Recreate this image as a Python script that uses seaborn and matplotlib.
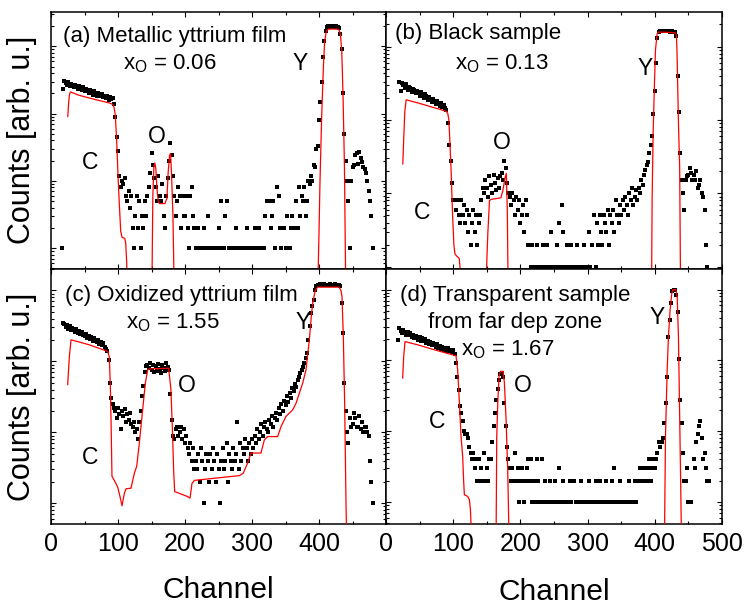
import numpy as np
import pandas as pd
import matplotlib
matplotlib.use("Agg")
import matplotlib.pyplot as plt
import seaborn as sns
from matplotlib.ticker import MultipleLocator, LogLocator, NullFormatter

sns.set_style("ticks")
plt.rcParams['font.family'] = ['Liberation Sans', 'DejaVu Sans']
plt.rcParams['mathtext.fontset'] = 'custom'
plt.rcParams['mathtext.rm'] = 'Liberation Sans'
plt.rcParams['mathtext.it'] = 'Liberation Sans:italic'
for key in ('text.color', 'axes.labelcolor', 'xtick.color', 'ytick.color', 'axes.edgecolor'):
    plt.rcParams[key] = 'black'

# ---------------- measured spectra (counts per channel, channels 16,18,...,480) -------------
CH_START, CH_STEP = 16, 2

counts_a = [
    1, 230, 310, 285, 270, 300, 255, 280, 265, 245,
    270, 250, 235, 260, 240, 225, 250, 215, 235, 225,
    205, 225, 210, 190, 215, 200, 185, 205, 195, 180,
    195, 175, 185, 168, 180, 160, 175, 165, 172, 140,
    90, 45, 28, 12, 8, 10, 9, 11, 6, 5,
    7, 4, 6, 2, 1, 3, 6, 2, 5, 1,
    3, 2, 5, 3, 6, 8, 13, 26, 17, 11,
    8, 5, 12, 6, 5, 9, 3, 2, 6, 11,
    20, 36, 24, 12, 6, 3, 5, 8, 6, 2,
    6, 3, 3, 6, 2, 1, 6, 8, 3, 2,
    1, 0, 2, 1, 0, 1, 2, 0, 1, 3,
    0, 1, 0, 1, 0, 1, 0, 2, 1, 5,
    0, 1, 3, 5, 0, 1, 0, 1, 0, 1,
    2, 0, 1, 0, 1, 0, 1, 0, 2, 1,
    0, 1, 0, 1, 2, 0, 1, 2, 0, 1,
    0, 1, 3, 5, 0, 5, 2, 3, 5, 1,
    0, 8, 6, 2, 1, 0, 2, 1, 3, 0,
    1, 2, 3, 0, 2, 5, 2, 8, 3, 6,
    5, 8, 3, 5, 10, 9, 12, 10, 17, 16,
    30, 33, 80, 150, 300, 700, 1200, 1700, 1950, 2000,
    2000, 1950, 2000, 1950, 1950, 2000, 1950, 1900, 1500, 900,
    200, 50, 20, 10, 5, 1, 10, 16, 17, 24,
    26, 18, 27, 22, 19, 16, 15, 13, 10, 7,
    5, 3, 1,
]

counts_b = [
    0, 0, 330, 250, 315, 295, 270, 305, 260, 285,
    275, 240, 265, 255, 230, 250, 235, 215, 240, 220,
    200, 225, 210, 185, 205, 195, 175, 190, 180, 165,
    180, 170, 155, 168, 150, 160, 145, 135, 90, 45,
    28, 14, 8, 8, 6, 8, 5, 4, 8, 5,
    7, 4, 6, 3, 5, 2, 4, 6, 3, 5,
    2, 4, 5, 8, 12, 10, 15, 12, 9, 17,
    13, 10, 18, 14, 11, 16, 12, 17, 19, 15,
    28, 22, 14, 10, 9, 7, 10, 8, 5, 9,
    6, 8, 4, 5, 7, 3, 8, 5, 2, 0,
    1, 2, 0, 1, 2, 1, 0, 1, 1, 2,
    1, 0, 2, 1, 1, 3, 1, 0, 1, 2,
    1, 4, 1, 7, 3, 1, 0, 2, 1, 1,
    2, 1, 0, 1, 2, 1, 1, 0, 1, 2,
    1, 0, 1, 3, 1, 2, 0, 5, 1, 4,
    2, 5, 3, 2, 5, 4, 3, 6, 2, 5,
    4, 6, 3, 8, 5, 4, 7, 5, 8, 6,
    9, 7, 5, 10, 8, 12, 7, 9, 11, 8,
    12, 10, 15, 13, 18, 21, 24, 27, 35, 45,
    60, 120, 250, 600, 1300, 1600, 1650, 1620, 1650, 1640,
    1620, 1650, 1630, 1600, 1640, 1610, 1600, 1580, 1400, 400,
    130, 35, 15, 10, 6, 15, 17, 18, 22, 19,
    15, 18, 15, 20, 12, 13, 15, 10, 9, 6,
    2, 1, 0,
]

counts_c = [
    0, 350, 335, 300, 320, 285, 310, 275, 295, 280,
    260, 285, 250, 270, 240, 255, 235, 225, 245, 215,
    230, 205, 220, 195, 210, 200, 185, 200, 175, 190,
    170, 180, 160, 150, 140, 105, 50, 30, 25, 22,
    20, 16, 22, 18, 11, 20, 17, 21, 14, 18,
    15, 19, 13, 12, 14, 10, 11, 8, 14, 20,
    32, 45, 70, 85, 90, 80, 95, 75, 88, 70,
    85, 72, 92, 78, 68, 90, 80, 73, 95, 82,
    75, 35, 15, 9, 8, 11, 12, 9, 10, 12,
    8, 11, 7, 9, 6, 5, 7, 4, 6, 3,
    4, 3, 5, 2, 6, 4, 1, 3, 5, 4,
    2, 5, 3, 6, 4, 2, 5, 3, 1, 4,
    6, 3, 4, 7, 2, 5, 4, 3, 6, 4,
    5, 14, 3, 7, 4, 6, 5, 8, 6, 4,
    7, 5, 8, 6, 9, 7, 11, 8, 10, 13,
    9, 12, 14, 11, 10, 15, 13, 17, 12, 16,
    19, 15, 22, 18, 25, 20, 28, 24, 32, 27,
    36, 30, 42, 38, 48, 44, 55, 60, 68, 75,
    84, 95, 110, 130, 200, 310, 480, 600, 720, 1000,
    1150, 1200, 1180, 1220, 1200, 1190, 1210, 1200, 1180, 1200,
    1210, 1190, 1200, 1180, 1210, 1200, 1190, 1180, 1150, 660,
    250, 50, 20, 10, 7, 16, 12, 13, 19, 16,
    12, 12, 17, 11, 14, 10, 12, 12, 10, 9,
    4, 2, 1,
]

counts_d = [
    0, 195, 285, 260, 240, 270, 250, 230, 255, 225,
    240, 215, 230, 205, 222, 210, 195, 215, 190, 205,
    185, 198, 178, 190, 170, 182, 165, 175, 168, 155,
    168, 150, 160, 145, 156, 140, 152, 136, 148, 135,
    142, 130, 138, 125, 91, 59, 38, 23, 18, 14,
    10, 9, 9, 8, 6, 5, 4, 5, 3, 4,
    2, 4, 2, 3, 2, 5, 2, 3, 2, 4,
    4, 7, 12, 18, 28, 40, 52, 64, 66, 58,
    25, 12, 6, 4, 3, 2, 3, 2, 5, 2,
    3, 1, 2, 3, 2, 1, 2, 3, 4, 2,
    4, 1, 2, 1, 4, 2, 1, 0, 4, 1,
    2, 1, 0, 1, 2, 1, 1, 0, 2, 1,
    1, 3, 1, 0, 2, 1, 1, 0, 1, 2,
    1, 0, 2, 1, 0, 1, 1, 2, 0, 1,
    1, 0, 1, 2, 1, 0, 1, 1, 2, 1,
    0, 2, 1, 1, 0, 1, 2, 1, 0, 1,
    2, 1, 3, 1, 0, 1, 2, 1, 1, 0,
    1, 0, 1, 2, 0, 1, 0, 2, 1, 0,
    2, 3, 2, 3, 2, 3, 2, 3, 4, 2,
    3, 4, 3, 4, 5, 7, 6, 7, 8, 13,
    25, 59, 216, 370, 640, 950, 1000, 1000, 850, 480,
    106, 28, 13, 5, 2, 2, 3, 1, 0, 1,
    0, 4, 3, 7, 9, 12, 14, 8, 4, 5,
    3, 2, 2,
]

# ---------------- simulated spectra (red curves); None separates segments ----------------
sim_ch_a = [25, 26, 27.5, 29, 32, 40, 50, 60, 70, 80, 88, 92, 94, 96, 98, 100, 102, 104, 106, 110, 111.5, 113, 114,
            None,
            150.5, 152, 153.5, 155, 156.5, 158, 160, 162, 170, 173, 175, 177, 178.5, 180, 182, 184,
            None,
            398, 400, 401.5, 404, 406.5, 408.5, 411, 414, 420, 428, 430, 432, 434, 436, 438, 440]
sim_ct_a = [90, 130, 190, 210, 205, 190, 178, 168, 158, 150, 143, 137, 125, 95, 40, 12, 4.5, 1.8, 1.45, 1.4, 1.2, 0.6, 0.2,
            None,
            0.2, 6, 16, 18.5, 15, 8, 5, 4.6, 4.6, 5.5, 14, 24, 25.5, 12, 3, 0.2,
            None,
            0.2, 1.7, 10, 90, 480, 1200, 1700, 1800, 1810, 1800, 1750, 1500, 850, 160, 16, 0.2]

sim_ch_b = [25, 26.5, 28, 30, 40, 50, 60, 70, 80, 90, 92, 93.5, 95, 97, 99, 101, 102.5, 105, 109, 110.5, 112,
            None,
            148.5, 150, 151.5, 154, 157, 165, 171, 174, 177, 179, 180.5, 182,
            None,
            395, 396, 397.5, 399.5, 401, 403.5, 406, 420, 430, 432, 433, 434, 435.5, 437, 438.5]
sim_ct_b = [25, 60, 130, 188, 178, 168, 158, 148, 140, 130, 122, 100, 53, 19, 5.3, 2.0, 1.5, 1.4, 1.3, 0.9, 0.3,
            None,
            0.3, 1.2, 2.8, 8, 8.3, 8.5, 8.7, 11, 16, 18.7, 6, 0.3,
            None,
            0.3, 8, 66, 316, 900, 1500, 1580, 1560, 1540, 1450, 900, 316, 70, 23, 0.3]

sim_ch_c = [24.9, 27.4, 29.9, 57, 84.6, 87, 88.6, 89.6, 91, 94.5, 99.5, 103, 106, 109.5, 112, 119.4, 124.4,
            127.9, 131.8, 136.8, 140.8, 144.3, 146.8, 175.6, 179, 181.6, 183, 184.6, 204, 207.5, 210.4, 214,
            281, 287, 293.5, 298.5, 313.4, 318.4, 323.4, 338.3, 343.3, 350.7, 360.7, 365.7, 370.6, 375.6,
            380.6, 385.6, 388, 390.5, 394.5, 398, 430, 432.8, 434.3, 436.3, 438.3, 440.3, 441.3]
sim_ct_c = [46.6, 117, 201, 171, 138, 117, 44, 15, 2.4, 2.1, 1.7, 1.24, 0.92, 1.38, 1.6, 1.63, 2.65,
            3.3, 7, 20.7, 49, 76, 78, 80, 40, 8.7, 2.95, 1.46, 1.24, 1.18, 1.9, 2.1,
            2.45, 2.65, 3.7, 5.1, 5.1, 7.8, 8.7, 8.7, 12, 16.7, 20.7, 25.6, 35.5, 49,
            76, 200, 380, 660, 1000, 1110, 1110, 1000, 820, 225, 25.6, 1, 0.3]

sim_ch_d = [24.8, 26.3, 28.3, 47.1, 72, 104.2, 106.7, 109.2, 111.7, 114.1, 115.6, 116.6, 121.6, 124.1, 125.6, 127.5,
            None,
            163.8, 164.8, 166.3, 168.2, 170.2, 174.2, 176.2, 178.7, 181.1, 183.1,
            None,
            414.4, 415.9, 418.4, 420.3, 422.8, 425.3, 427.3, 431.3, 433.3, 435.2, 436.7, 438.2, 439.7]
sim_ct_d = [56, 113, 184, 166, 141, 116, 73, 25, 8.4, 4.4, 1.93, 1.27, 1.2, 1.08, 0.78, 0.3,
            None,
            0.3, 8.4, 25, 59, 70, 70, 48, 14.5, 2.9, 0.3,
            None,
            0.3, 8.4, 73, 216, 520, 890, 1000, 1000, 800, 216, 25, 2.9, 0.3]

panel_titles = ["(a) Metallic yttrium film", "(b) Black sample",
                "(c) Oxidized yttrium film", "(d) Transparent sample"]
x_o_values = ["0.06", "0.13", "1.55", "1.67"]
y_limits = [(0.49, 3240), (0.93, 2960), (0.51, 2000), (0.49, 1950)]

# ---------------- layout ----------------
W, H = 749, 607
fig = plt.figure(figsize=(W / 100, H / 100), dpi=100)

def box(x0, y0, x1, y1):
    return [x0 / W, 1 - y1 / H, (x1 - x0) / W, (y1 - y0) / H]

boxes = [box(51, 12, 386, 269), box(386, 12, 722, 269),
         box(51, 269, 386, 524), box(386, 269, 722, 524)]

all_counts = [counts_a, counts_b, counts_c, counts_d]
all_sim = [(sim_ch_a, sim_ct_a), (sim_ch_b, sim_ct_b), (sim_ch_c, sim_ct_c), (sim_ch_d, sim_ct_d)]

# text placement (axes fractions)
txt = [
    dict(title=(0.035, 0.904), xo=(0.215, 0.80), Y=(0.743, 0.80), O=(0.316, 0.514), C=(0.116, 0.416)),
    dict(title=(0.027, 0.918), xo=(0.205, 0.80), Y=(0.771, 0.782), O=(0.345, 0.494), C=(0.107, 0.218)),
    dict(title=(0.042, 0.898), xo=(0.224, 0.788), Y=(0.752, 0.792), O=(0.406, 0.545), C=(0.116, 0.259)),
    dict(title=(0.042, 0.898), xo=(0.223, 0.682), Y=(0.807, 0.808), O=(0.408, 0.545), C=(0.152, 0.400)),
]

FS = 16
for i in range(4):
    ax = fig.add_axes(boxes[i])
    cnt = np.array(all_counts[i], dtype=float)
    ch = CH_START + CH_STEP * np.arange(len(cnt))
    df = pd.DataFrame({"Channel": ch, "Counts": cnt})
    df = df[df["Counts"] > 0]
    sns.scatterplot(data=df, x="Channel", y="Counts", ax=ax, marker="s", color="black",
                    s=6, linewidth=0, zorder=3)

    sch, sct = all_sim[i]
    seg_x, seg_y = [], []
    segments = []
    for xv, yv in zip(sch, sct):
        if xv is None:
            segments.append((seg_x, seg_y))
            seg_x, seg_y = [], []
        else:
            seg_x.append(xv)
            seg_y.append(yv)
    segments.append((seg_x, seg_y))
    for sx, sy in segments:
        sns.lineplot(x=sx, y=sy, ax=ax, color="#ff0000", linewidth=0.9,
                     estimator=None, sort=False, zorder=4)

    ax.set_yscale("log")
    ax.set_xlim(0, 500)
    ax.set_ylim(*y_limits[i])
    ax.xaxis.set_major_locator(MultipleLocator(100))
    ax.xaxis.set_minor_locator(MultipleLocator(50))
    ax.yaxis.set_major_locator(LogLocator(base=10, numticks=20))
    ax.yaxis.set_minor_locator(LogLocator(base=10, subs=np.arange(2, 10), numticks=20))
    ax.yaxis.set_major_formatter(NullFormatter())
    ax.yaxis.set_minor_formatter(NullFormatter())
    ax.tick_params(which="both", direction="in", top=True, right=True, left=True, bottom=True,
                   width=0.8, color="black")
    ax.tick_params(which="major", length=3.5)
    ax.tick_params(which="minor", length=2.0)
    ax.tick_params(axis="x", labelsize=18, pad=6, labelcolor="black")
    for sp in ax.spines.values():
        sp.set_linewidth(1.1)
        sp.set_color("black")
        sp.set_visible(True)
    ax.set_xlabel("")
    ax.set_ylabel("")
    if i < 2:
        ax.set_xticklabels([])
    elif i == 2:
        ax.set_xticks([0, 100, 200, 300, 400, 500])
        ax.set_xticklabels(["0", "100", "200", "300", "400", ""])
    else:
        ax.set_xticks([0, 100, 200, 300, 400, 500])
        ax.set_xticklabels(["0", "100", "200", "300", "400", "500"])

    t = txt[i]
    ax.text(*t["title"], panel_titles[i], transform=ax.transAxes, ha="left", va="center",
            fontsize=FS, color="black")
    if i == 3:
        ax.text(0.125, 0.792, "from far dep zone", transform=ax.transAxes, ha="left", va="center",
                fontsize=FS, color="black")
    ax.text(*t["xo"], "x$_\\mathregular{O}$ = " + x_o_values[i], transform=ax.transAxes,
            ha="left", va="center", fontsize=FS, color="black")
    for lab in ("Y", "O", "C"):
        ax.text(*t[lab], lab, transform=ax.transAxes, ha="center", va="center",
                fontsize=FS + 0.5, color="black")

fig.text(22 / W, 1 - 140 / H, "Counts [arb. u.]", rotation=90, ha="center", va="center",
         fontsize=22, color="black")
fig.text(22 / W, 1 - 397 / H, "Counts [arb. u.]", rotation=90, ha="center", va="center",
         fontsize=22, color="black")
fig.text(218 / W, 1 - 590 / H, "Channel", ha="center", va="center", fontsize=21.5, color="black")
fig.text(554 / W, 1 - 592 / H, "Channel", ha="center", va="center", fontsize=21.5, color="black")

fig.savefig("out.png", dpi=100)
